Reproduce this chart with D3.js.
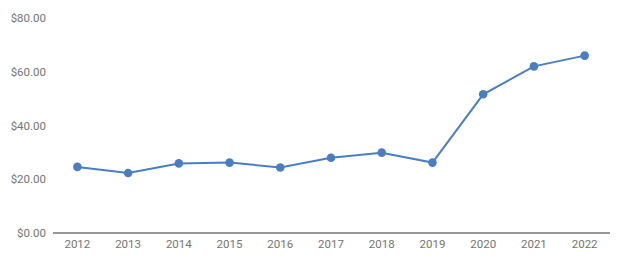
<!DOCTYPE html>
<html><head><meta charset="utf-8">
<script src="https://cdn.jsdelivr.net/npm/d3@7"></script>
<style>body{margin:0;background:#fff}svg{display:block}</style>
</head><body><svg id="c" width="624" height="263"></svg>
<script>
const years = ["2012","2013","2014","2015","2016","2017","2018","2019","2020","2021","2022"];
const values = [24.6,22.3,25.9,26.2,24.4,28.0,29.9,26.2,51.6,62.0,66.0];
const yTicks = [0,20,40,60,80];

const svg = d3.select("#c");
const x = d3.scalePoint().domain(years).range([52,610]).padding(0.5);
const y = d3.scaleLinear().domain([0,80]).range([233,18]);
const font = "Roboto, Arial, sans-serif";

svg.append("g").selectAll("text").data(yTicks).join("text")
  .attr("x",46).attr("y",d=>y(d)).attr("dy","0.36em")
  .attr("text-anchor","end").attr("font-family",font).attr("font-size",11.5)
  .attr("fill","#757575").text(d=>"$"+d.toFixed(2));

svg.append("line").attr("x1",53).attr("x2",610).attr("y1",y(0)).attr("y2",y(0))
  .attr("stroke","#757575").attr("stroke-width",1.3);

svg.append("g").selectAll("text").data(years).join("text")
  .attr("x",d=>x(d)).attr("y",248).attr("text-anchor","middle")
  .attr("font-family",font).attr("font-size",11.5).attr("fill","#757575").text(d=>d);

const data = years.map((yr,i)=>({yr,v:values[i]}));
svg.append("path").datum(data).attr("fill","none").attr("stroke","#4a7ebf").attr("stroke-width",2)
  .attr("d",d3.line().x(d=>x(d.yr)).y(d=>y(d.v)));
svg.append("g").selectAll("circle").data(data).join("circle")
  .attr("cx",d=>x(d.yr)).attr("cy",d=>y(d.v)).attr("r",4.3).attr("fill","#4a7ebf");
</script></body></html>
